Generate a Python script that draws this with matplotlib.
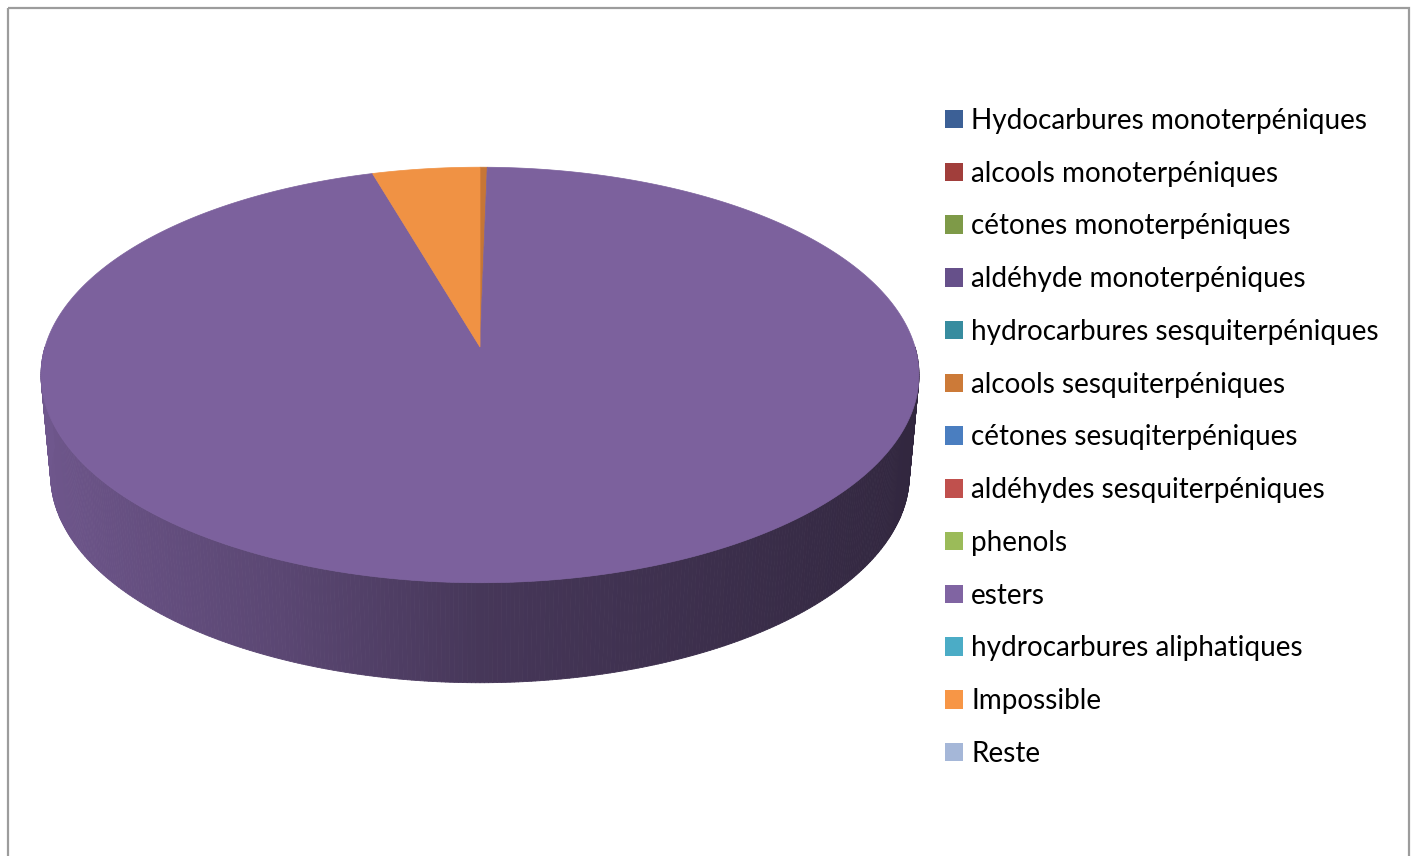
import numpy as np
import matplotlib
matplotlib.use("Agg")
import matplotlib.pyplot as plt
from matplotlib.patches import Polygon, Rectangle, Patch
from matplotlib.collections import PolyCollection
from matplotlib.colors import to_rgb

categories = [
    "Hydocarbures monoterpéniques",
    "alcools monoterpéniques",
    "cétones monoterpéniques",
    "aldéhyde monoterpéniques",
    "hydrocarbures sesquiterpéniques",
    "alcools sesquiterpéniques",
    "cétones sesuqiterpéniques",
    "aldéhydes sesquiterpéniques",
    "phenols",
    "esters",
    "hydrocarbures aliphatiques",
    "Impossible",
    "Reste",
]
values = [0, 0, 0, 0, 0, 0.3, 0, 0, 0, 95.2, 0, 4.5, 0]
colors = [
    "#3C6096", "#A13E3B", "#7E9A48", "#66508A", "#378C9F", "#CC7A38",
    "#4A7EC0", "#C0504D", "#9BBB59", "#8064A2", "#4BACC6", "#F79646", "#A5B7D8",
]

W, H = 1416, 856
fig = plt.figure(figsize=(W / 100, H / 100), dpi=100)
ax = fig.add_axes([0, 0, 1, 1])
ax.set_xlim(0, W)
ax.set_ylim(H, 0)
ax.axis("off")

# outer frame of the chart area
ax.add_patch(Rectangle((8, 8), 1401, 900, fill=False, edgecolor="#9C9C9C", lw=1.6))

# 3D pie geometry (perspective-tilted disc)
cx, cy, Rx, Ry, k, depth, bottom_scale = 480, 347, 435, 204, 0.1346, 100, 0.978


def proj(theta_deg, z=0.0):
    th = np.radians(theta_deg)
    u, v = np.sin(th), np.cos(th)
    s = 1.0 / (1.0 + k * v)
    sc = 1.0 - (1.0 - bottom_scale) * z
    return cx + Rx * u * s * sc, cy - Ry * v * s + depth * z


def shade(u):
    return np.interp(-u, [-1, 0, 0.41, 1], [0.38, 0.55, 0.71, 0.87])


total = float(sum(values))
start = 0.0
slices = []
for val, col in zip(values, colors):
    span = 360.0 * val / total
    if val > 0:
        slices.append((start, start + span, col))
    start += span

# side walls (front half only)
quads, qcols = [], []
for a0, a1, col in slices:
    lo, hi = max(a0, 90.0), min(a1, 270.0)
    if hi <= lo:
        continue
    n = max(2, int((hi - lo) * 2))
    ts = np.linspace(lo, hi, n + 1)
    base = np.array(to_rgb(col))
    for t0, t1 in zip(ts[:-1], ts[1:]):
        x0, y0 = proj(t0)
        x1, y1 = proj(t1)
        x2, y2 = proj(t1, 1)
        x3, y3 = proj(t0, 1)
        quads.append([(x0, y0), (x1, y1), (x2, y2), (x3, y3)])
        c = np.clip(base * shade(np.sin(np.radians((t0 + t1) / 2))), 0, 1)
        qcols.append(c)
ax.add_collection(PolyCollection(quads, facecolors=qcols, edgecolors=qcols, linewidths=0.6))

# top faces
for a0, a1, col in slices:
    ts = np.linspace(a0, a1, max(3, int((a1 - a0) * 2)))
    pts = [(cx, cy)] + [proj(t) for t in ts]
    c = np.clip(np.array(to_rgb(col)) * 0.97, 0, 1)
    ax.add_patch(Polygon(pts, closed=True, facecolor=c, edgecolor=c, lw=0.5))

# legend
fs = 20.1
fpx = fs * 100 / 72
handles = [Patch(facecolor=c, edgecolor="none") for c in colors]
leg = ax.legend(
    handles, categories,
    loc="upper left",
    bbox_to_anchor=(945 / W, 1 - 108 / H),
    bbox_transform=fig.transFigure,
    frameon=False,
    prop={"family": "Lato", "size": fs},
    handlelength=18 / fpx, handleheight=18 / fpx,
    handletextpad=8 / fpx, labelspacing=0.958,
    borderpad=0, borderaxespad=0,
)

fig.savefig("out.png", dpi=100, facecolor="white")
